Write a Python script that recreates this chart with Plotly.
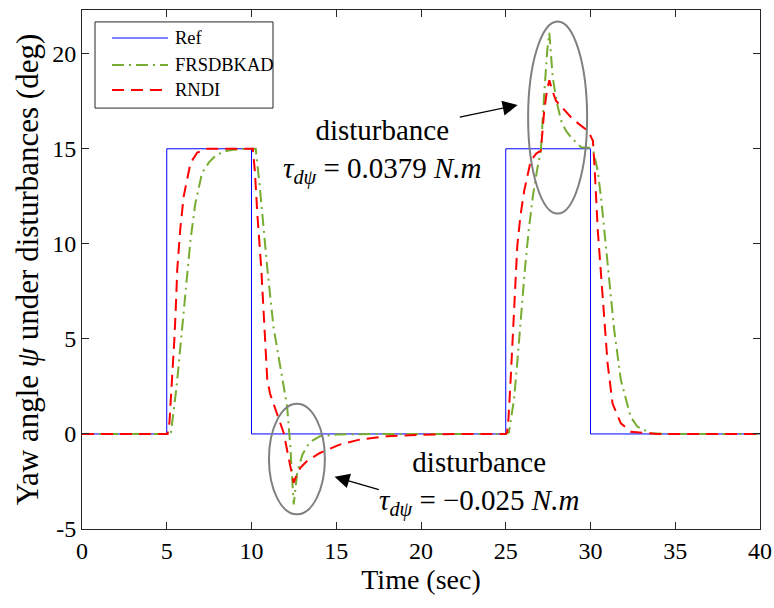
import plotly.graph_objects as go

# ---------------- data ----------------
ref_t = [0, 5, 5, 10, 10, 25, 25, 30, 30, 40]
ref_y = [0, 0, 15, 15, 0, 0, 15, 15, 0, 0]

frs_t = [0, 5.15, 5.25, 5.41, 5.54, 5.68, 5.84, 6.03, 6.2, 6.4, 6.69, 7.08, 7.5, 7.95,
         8.5, 8.93, 9.5, 10.0, 10.25, 10.5, 10.94, 11.3, 11.81, 12.1, 12.29, 12.49,
         12.7, 13.0, 13.27, 13.6, 14.04, 15.0, 17.0, 20.0, 25.0, 25.19, 25.49, 25.68,
         25.87, 26.13, 26.36, 26.6, 26.85, 27.07, 27.27, 27.45, 27.57, 27.67, 27.77,
         28.0, 28.26, 28.55, 28.85, 29.45, 30.0, 30.2, 30.43, 30.62, 31.01, 31.4,
         31.79, 32.37, 32.76, 33.54, 34.5, 40]
frs_y = [0, 0, 0.09, 1.14, 2.19, 3.41, 4.99, 6.82, 8.65, 10.2, 12.15, 13.72, 14.3, 14.69,
         14.88, 14.95, 14.99, 15.0, 15.0, 12.9, 8.65, 5.6, 2.85, 1.45, -0.65, -3.71,
         -2.0, -1.1, -0.65, -0.35, -0.12, -0.03, 0, 0, 0, 0.09, 1.84, 3.76,
         6.04, 8.66, 10.76, 12.5, 13.9, 14.9, 17.9, 20.2, 21.1, 20.0, 18.76,
         17.5, 16.49, 15.95, 15.6, 15.08, 15.05, 14.8, 13.8, 12.46, 8.96, 5.46,
         2.84, 0.9, 0.39, 0.04, 0, 0]

rndi_t = [0, 5.05, 5.16, 5.25, 5.35, 5.45, 5.54, 5.62, 5.8, 6.0, 6.4, 6.8, 7.37, 10.0,
          10.08, 10.2, 10.35, 10.58, 10.75, 10.93, 11.1, 11.4, 11.7, 11.9, 12.2, 12.49,
          12.6, 12.88, 13.3, 14.04, 15.2, 16.37, 18.0, 20.0, 22.0, 25.0, 25.08, 25.16,
          25.29, 25.43, 25.54, 25.68, 25.87, 26.09, 26.48, 26.8, 27.07, 27.27, 27.42,
          27.57, 27.7, 27.96, 28.4, 28.85, 29.25, 29.64, 29.9, 30.04, 30.14, 30.23,
          30.43, 30.72, 31.01, 31.3, 31.79, 32.37, 33.9, 40]
rndi_y = [0, 0, 0.61, 1.84, 3.06, 4.99, 6.74, 8.65, 10.8, 12.5, 14.25, 14.8, 15.0, 15.0,
          15.0, 13.8, 11.5, 8.65, 5.5, 2.85, 2.1, 1.3, 0.6, 0.05, -1.3, -2.57,
          -2.3, -1.78, -1.4, -1.0, -0.56, -0.3, -0.12, -0.04, 0, 0, 0.1, 0.79,
          2.89, 5.34, 7.79, 9.89, 11.5, 12.8, 14.39, 14.75, 14.9, 17.0, 18.0,
          18.6, 18.2, 17.53, 17.1, 16.66, 16.35, 16.05, 15.9, 15.6, 15.44, 14.2,
          10.7, 7.2, 3.7, 1.6, 0.56, 0.12, 0, 0]

series_names = ["Ref", "FRSDBKAD", "RNDI"]

xtick_vals = [0, 5, 10, 15, 20, 25, 30, 35, 40]
xtick_text = ["0", "5", "10", "15", "20", "25", "30", "35", "40"]
ytick_vals = [-5, 0, 5, 10, 15, 20]
ytick_text = ["-5", "0", "5", "10", "15", "20"]

# ellipses (x0, x1, y0, y1) in data units
ellipse1 = [11.03, 14.33, -4.23, 1.59]
ellipse2 = [26.32, 29.8, 11.59, 21.7]

FONT = "Liberation Serif"
AX = "#262626"
styles = [
    dict(color="#0000FF", width=1),
    dict(color="#77AC30", width=2, dash="12px,5px,2px,5px"),
    dict(color="#FF0000", width=2, dash="12px,7px"),
]

fig = go.Figure()
for (tt, yy), name, st in zip([(ref_t, ref_y), (frs_t, frs_y), (rndi_t, rndi_y)],
                              series_names, styles):
    fig.add_trace(go.Scatter(x=tt, y=yy, mode="lines", name=name, line=st,
                             showlegend=False))

for e in (ellipse1, ellipse2):
    fig.add_shape(type="circle", xref="x", yref="y", x0=e[0], x1=e[1], y0=e[2], y1=e[3],
                  line=dict(color="#808080", width=2))

# ---- legend drawn as a box with line samples and text ----
fig.add_shape(type="rect", xref="paper", yref="paper", x0=0.0192, x1=0.2817, y0=0.811, y1=0.977,
              fillcolor="white", line=dict(color=AX, width=1))
row_y = [0.946, 0.894, 0.846]
for name, st, ry in zip(series_names, styles, row_y):
    fig.add_shape(type="line", xref="paper", yref="paper", x0=0.0442, x1=0.1268, y0=ry, y1=ry,
                  line=st)
    fig.add_annotation(xref="paper", yref="paper", x=0.1342, y=ry, xanchor="left",
                       yanchor="middle", text=name, showarrow=False,
                       font=dict(family=FONT, size=18.5, color="black"))

note_up = "disturbance<br><i>τ</i><sub><i>dψ</i></sub> = 0.0379 <i>N.m</i>"
note_dn = "disturbance<br><i>τ</i><sub><i>dψ</i></sub> = −0.025 <i>N.m</i>"
afont = dict(family=FONT, size=29, color="black")
fig.add_annotation(x=17.7, y=14.85, text=note_up, showarrow=False, font=afont, align="center")
fig.add_annotation(x=23.4, y=-2.6, text=note_dn, showarrow=False, font=afont, align="center")

# arrows
fig.add_annotation(x=25.7, y=17.3, ax=22.2, ay=16.65, xref="x", yref="y", axref="x", ayref="y",
                   text="", showarrow=True, arrowhead=2, arrowsize=2.3, arrowwidth=1.3,
                   arrowcolor="black")
fig.add_annotation(x=14.9, y=-2.25, ax=17.6, ay=-2.95, xref="x", yref="y", axref="x", ayref="y",
                   text="", showarrow=True, arrowhead=2, arrowsize=2.3, arrowwidth=1.3,
                   arrowcolor="black")

fig.update_layout(
    width=774, height=608,
    margin=dict(l=82, r=14, t=10, b=79, autoexpand=False),
    paper_bgcolor="white", plot_bgcolor="white",
    font=dict(family=FONT, size=22, color="black"),
    showlegend=False,
)
fig.update_xaxes(range=[0, 40], tickvals=xtick_vals, ticktext=xtick_text,
                 showline=True, linecolor=AX, linewidth=1, mirror="ticks",
                 ticks="inside", ticklen=7, tickcolor=AX, showgrid=False, zeroline=False,
                 ticklabeloverflow="allow", automargin=False,
                 tickfont=dict(family=FONT, size=24, color="black"),
                 title=dict(text="Time (sec)", font=dict(family=FONT, size=28, color="black"),
                            standoff=6))
fig.update_yaxes(range=[-5, 22.3], tickvals=ytick_vals, ticktext=ytick_text,
                 showline=True, linecolor=AX, linewidth=1, mirror="ticks",
                 ticks="inside", ticklen=7, tickcolor=AX, showgrid=False, zeroline=False,
                 automargin=False,
                 tickfont=dict(family=FONT, size=24, color="black"),
                 title=dict(text="Yaw angle <i>ψ</i> under disturbances (deg)",
                            font=dict(family=FONT, size=31, color="black"), standoff=4))

fig.write_html("out.html")
